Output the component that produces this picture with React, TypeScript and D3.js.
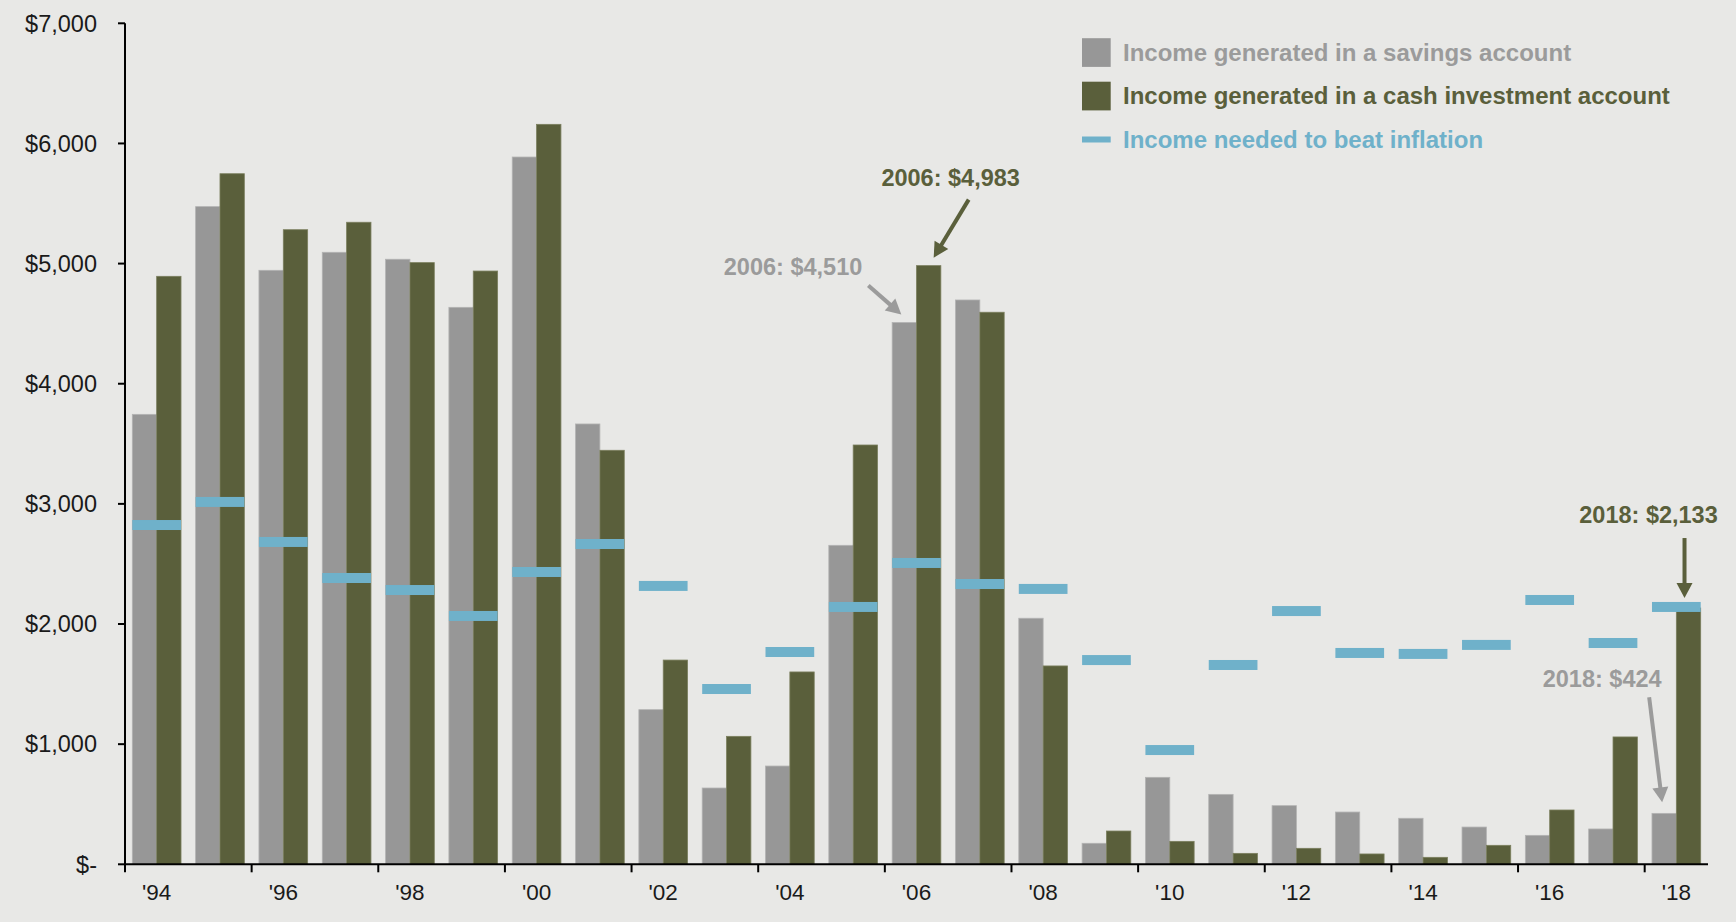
import React from "react";
import * as d3 from "d3";

const years = [
  1994, 1995, 1996, 1997, 1998, 1999, 2000, 2001, 2002, 2003, 2004, 2005, 2006,
  2007, 2008, 2009, 2010, 2011, 2012, 2013, 2014, 2015, 2016, 2017, 2018,
];
const savings = [
  3745, 5474, 4944, 5094, 5036, 4636, 5887, 3665, 1287, 635, 818, 2655, 4510,
  4697, 2048, 175, 724, 582, 488, 435, 383, 310, 241, 294, 424,
];
const cash = [
  4894, 5748, 5282, 5344, 5008, 4938, 6159, 3446, 1700, 1065, 1601, 3490, 4983,
  4595, 1651, 277, 191, 91, 133, 86, 58, 158, 452, 1060, 2133,
];
const inflation = [
  2824, 3016, 2683, 2383, 2283, 2067, 2433, 2666, 2317, 1459, 1767, 2142, 2508,
  2333, 2292, 1700, 951, 1659, 2108, 1759, 1751, 1826, 2200, 1842, 2142,
];
const tickYears = [1994, 1996, 1998, 2000, 2002, 2004, 2006, 2008, 2010, 2012, 2014, 2016, 2018];
const tickLabels = ["'94", "'96", "'98", "'00", "'02", "'04", "'06", "'08", "'10", "'12", "'14", "'16", "'18"];
const yTicks = [0, 1000, 2000, 3000, 4000, 5000, 6000, 7000];

const legendItems = [
  { key: "savings", label: "Income generated in a savings account" },
  { key: "cash", label: "Income generated in a cash investment account" },
  { key: "inflation", label: "Income needed to beat inflation" },
];

// callouts: tip offset from bar top, tail and label relative to the tip
const callouts = [
  { year: 2006, series: "savings", text: "2006: $4,510", tip: [-3, -8], tail: [-33, -29], label: [-39, -39], anchor: "end" },
  { year: 2006, series: "cash", text: "2006: $4,983", tip: [5, -8], tail: [35, -58], label: [17, -72], anchor: "middle" },
  { year: 2018, series: "cash", text: "2018: $2,133", tip: [-4, -10], tail: [0, -60], label: [-36, -75], anchor: "middle" },
  { year: 2018, series: "savings", text: "2018: $424", tip: [-2, -11], tail: [-13, -105], label: [-60, -115], anchor: "middle" },
];

const W = 1736;
const H = 922;
const BG = "#e8e8e6";
const GRAY = "#979797";
const GREEN = "#5a5f3b";
const BLUE = "#6fb1ca";
const GRAY_TEXT = "#9b9b9b";
const FONT = "'Liberation Sans', Arial, sans-serif";

const colors: Record<string, string> = { savings: GRAY, cash: GREEN, inflation: BLUE };
const textColors: Record<string, string> = { savings: GRAY_TEXT, cash: GREEN, inflation: BLUE };

function Arrow({ x1, y1, x2, y2, color }: { x1: number; y1: number; x2: number; y2: number; color: string }) {
  const dx = x2 - x1;
  const dy = y2 - y1;
  const len = Math.sqrt(dx * dx + dy * dy);
  const ux = dx / len;
  const uy = dy / len;
  const headLen = 15;
  const headW = 8;
  const bx = x2 - ux * headLen;
  const by = y2 - uy * headLen;
  const pts = [
    [x2, y2],
    [bx - uy * headW, by + ux * headW],
    [bx + uy * headW, by - ux * headW],
  ];
  return (
    <g>
      <line x1={x1} y1={y1} x2={bx + ux * 2} y2={by + uy * 2} stroke={color} strokeWidth={4} />
      <polygon points={pts.map((p) => p.join(",")).join(" ")} fill={color} />
    </g>
  );
}

export default function App() {
  const x = d3.scaleBand<number>().domain(years).range([125, 1708]).padding(0);
  const xSub = d3
    .scaleBand<string>()
    .domain(["savings", "cash"])
    .range([0, x.bandwidth()])
    .paddingInner(0)
    .paddingOuter(0.3);
  const y = d3.scaleLinear().domain([0, 7000]).range([864.3, 23.3]);
  const fmt = d3.format(",");

  const series: Record<string, number[]> = { savings, cash };

  return (
    <svg
      width={W}
      height={H}
      style={{ position: "absolute", left: 0, top: 0, background: BG, fontFamily: FONT }}
    >
      <rect x={0} y={0} width={W} height={H} fill={BG} />

      {/* bars */}
      {years.map((yr, i) => (
        <g key={yr} transform={`translate(${x(yr)},0)`}>
          {["savings", "cash"].map((s) => (
            <rect
              key={s}
              x={xSub(s)}
              y={y(series[s][i])}
              width={xSub.bandwidth()}
              height={y(0) - y(series[s][i])}
              fill={colors[s]}
              stroke={s === "savings" ? "#b3b3b3" : "#7b7f5e"}
              strokeWidth={0.8}
            />
          ))}
        </g>
      ))}

      {/* inflation dashes */}
      {years.map((yr, i) => (
        <rect
          key={`inf-${yr}`}
          x={(x(yr) as number) + (xSub("savings") as number)}
          y={y(inflation[i]) - 5}
          width={xSub.bandwidth() * 2}
          height={10}
          fill={BLUE}
        />
      ))}

      {/* y axis */}
      <line x1={125} x2={125} y1={y(7000)} y2={y(0) + 1} stroke="#000" strokeWidth={2} />
      {yTicks.map((t) => (
        <g key={t}>
          <line x1={118} x2={125} y1={y(t)} y2={y(t)} stroke="#000" strokeWidth={2} />
          <text
            x={97}
            y={y(t)}
            dy="0.35em"
            textAnchor="end"
            fontSize={23.5}
            fill="#1a1a1a"
          >
            {t === 0 ? "$-" : `$${fmt(t)}`}
          </text>
        </g>
      ))}

      {/* x axis */}
      <line x1={124} x2={1708} y1={y(0)} y2={y(0)} stroke="#000" strokeWidth={2} />
      {tickYears.map((yr, i) => (
        <g key={yr}>
          <line
            x1={x(yr)}
            x2={x(yr)}
            y1={y(0)}
            y2={y(0) + 8}
            stroke="#000"
            strokeWidth={2}
          />
          <text
            x={(x(yr) as number) + x.bandwidth() / 2}
            y={900}
            textAnchor="middle"
            fontSize={22.5}
            fill="#1a1a1a"
          >
            {tickLabels[i]}
          </text>
        </g>
      ))}

      {/* legend */}
      {legendItems.map((item, i) => {
        const cy = [52.5, 96, 139.5][i];
        return (
          <g key={item.key}>
            {item.key === "inflation" ? (
              <rect x={1082} y={cy - 3} width={28.7} height={6} fill={BLUE} />
            ) : (
              <rect x={1082} y={cy - 14.3} width={28.7} height={28.7} fill={colors[item.key]} />
            )}
            <text
              x={1123}
              y={cy}
              dy="0.35em"
              fontSize={24}
              fontWeight="bold"
              fill={textColors[item.key]}
            >
              {item.label}
            </text>
          </g>
        );
      })}

      {/* callouts */}
      {callouts.map((c) => {
        const i = years.indexOf(c.year);
        const v = series[c.series][i];
        const bx = (x(c.year) as number) + (xSub(c.series) as number) + xSub.bandwidth() / 2;
        const tx = bx + c.tip[0];
        const ty = y(v) + c.tip[1];
        const col = textColors[c.series];
        return (
          <g key={c.text}>
            <Arrow x1={tx + c.tail[0]} y1={ty + c.tail[1]} x2={tx} y2={ty} color={col} />
            <text
              x={tx + c.label[0]}
              y={ty + c.label[1]}
              textAnchor={c.anchor}
              fontSize={23.5}
              fontWeight="bold"
              fill={col}
            >
              {c.text}
            </text>
          </g>
        );
      })}
    </svg>
  );
}
